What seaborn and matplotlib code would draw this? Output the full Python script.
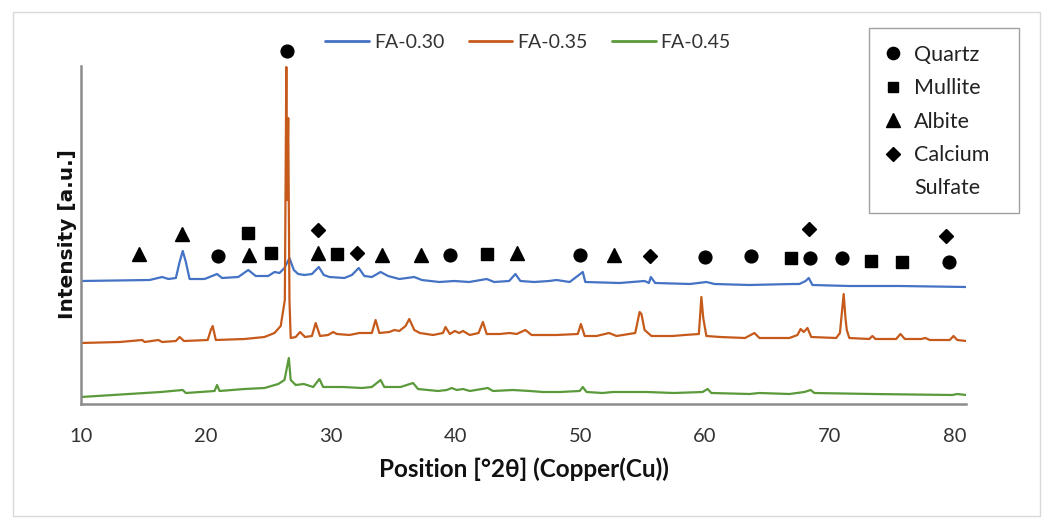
import matplotlib
matplotlib.use("Agg")
import matplotlib.pyplot as plt
from matplotlib.lines import Line2D
from matplotlib.patches import Rectangle
import pandas as pd
import seaborn as sns

# ---- diffraction patterns: 2-theta (deg) and stacked intensity (a.u.) ----
fa030_theta = [10.0, 15.5, 16.5, 17.0, 17.6, 17.9, 18.15, 18.4, 18.7, 19.9, 20.9, 21.3,
               22.6, 23.4, 24.0, 25.0, 25.5, 25.9, 26.3, 26.7, 27.05, 27.4, 27.9, 28.5,
               29.05, 29.45, 29.9, 31.1, 31.7, 32.25, 32.7, 33.3, 34.0, 34.6, 35.5, 36.7,
               37.3, 38.7, 39.9, 41.1, 42.5, 43.1, 44.3, 44.8, 45.2, 46.3, 47.5, 48.1,
               49.15, 50.2, 50.4, 53.15, 55.15, 55.5, 55.65, 56.0, 58.8, 60.1, 60.75,
               63.55, 67.0, 67.55, 68.05, 68.3, 68.6, 71.55, 75.6, 80.9]
fa030_int = [123, 124, 127, 125, 126, 142, 153, 142, 125, 125, 130, 126,
             127, 134, 128, 128, 132, 131, 136, 146, 134, 130, 129, 130,
             137, 129, 127, 126, 129, 136, 128, 127, 132, 128, 125, 127,
             124, 122, 123, 122, 125, 122, 123, 130, 123, 122, 123, 124,
             122, 132, 122, 121, 123, 121, 127, 121, 120, 122, 120,
             119, 120, 120, 123, 126, 119, 118, 118, 117]

fa035_theta = [10.0, 13.1, 14.9, 15.1, 16.2, 16.5, 17.6, 17.9, 18.25, 20.15, 20.4, 20.55,
               20.8, 23.1, 24.7, 25.5, 26.0, 26.33, 26.45, 26.5, 26.6, 26.7, 26.8, 27.2,
               27.55, 27.95, 28.5, 28.8, 29.15, 29.8, 30.2, 30.5, 31.5, 32.3, 33.3, 33.6,
               33.9, 34.7, 35.1, 35.5, 36.0, 36.3, 36.7, 37.15, 38.2, 39.0, 39.2, 39.55,
               39.95, 40.3, 40.6, 41.15, 41.85, 42.2, 42.5, 43.55, 44.35, 44.9, 45.6, 46.1,
               48.1, 49.8, 50.05, 50.35, 51.3, 52.3, 52.9, 54.4, 54.75, 54.9, 55.15, 55.7,
               57.4, 58.35, 59.5, 59.7, 59.85, 60.1, 61.2, 63.2, 63.95, 64.35, 66.75, 67.4,
               67.65, 67.9, 68.2, 68.5, 70.5, 70.8, 71.1, 71.25, 71.35, 71.55, 73.15, 73.4,
               73.65, 75.3, 75.65, 76.0, 77.3, 77.65, 78.0, 79.6, 79.9, 80.2, 80.9]
fa035_int = [61, 62, 64, 62, 64, 62, 63, 67, 63, 64, 74, 78,
             64, 65, 67, 71, 78, 104, 337, 204, 286, 104, 66, 67,
             72, 67, 68, 81, 68, 69, 72, 70, 69, 71, 71, 84,
             71, 72, 74, 73, 78, 85, 74, 71, 69, 71, 77, 70,
             73, 71, 73, 69, 71, 82, 70, 70, 71, 70, 74, 69,
             69, 70, 80, 68, 68, 71, 68, 71, 92, 90, 74, 68,
             68, 69, 70, 107, 86, 68, 67, 66, 71, 66, 66, 69,
             75, 72, 76, 67, 66, 71, 110, 85, 74, 66, 65, 68,
             65, 65, 70, 65, 65, 66, 64, 64, 68, 64, 63]

fa045_theta = [10.0, 16.4, 18.15, 18.4, 20.7, 20.9, 21.1, 23.1, 24.7, 25.8, 26.3, 26.65,
               26.8, 27.2, 27.85, 28.6, 29.1, 29.4, 31.0, 32.5, 33.3, 34.0, 34.3, 35.6,
               36.6, 37.0, 38.6, 39.3, 39.7, 40.1, 40.6, 41.15, 42.6, 43.0, 44.6, 45.95,
               47.0, 48.35, 49.95, 50.2, 50.5, 51.8, 52.6, 55.3, 57.5, 59.8, 60.2, 60.5,
               63.55, 64.35, 66.75, 67.95, 68.45, 68.75, 73.4, 79.8, 80.2, 80.9]
fa045_int = [7, 12, 14, 11, 13, 19, 13, 15, 16, 20, 24, 46,
             24, 19, 20, 17, 25, 17, 17, 16, 17, 24, 17, 17,
             21, 15, 13, 14, 16, 14, 15, 13, 16, 13, 14, 13,
             12, 12, 13, 17, 12, 11, 12, 12, 11, 12, 15, 11,
             10, 11, 10, 12, 14, 11, 10, 9, 10, 9]

series_names = ["FA-0.30", "FA-0.35", "FA-0.45"]
series_colors = ["#4472C4", "#C65A1B", "#5A9A3A"]

# ---- phase identification marks: 2-theta and height of each symbol ----
quartz_theta = [26.5, 21.0, 39.6, 50.0, 60.0, 63.7, 68.4, 71.0, 79.5]
quartz_y = [353, 148, 149, 149, 147, 148, 146, 146, 142]
mullite_theta = [23.4, 25.2, 30.5, 42.5, 66.85, 73.25, 75.8]
mullite_y = [171, 151, 150, 150, 146, 143, 142]
albite_theta = [18.1, 14.65, 23.45, 29.0, 34.1, 37.2, 44.9, 52.7]
albite_y = [170, 150, 149, 151, 149, 149, 151, 149]
sulfate_theta = [29.0, 32.1, 55.55, 68.3, 79.3]
sulfate_y = [174, 151, 148, 175, 168]

phase_names = ["Quartz", "Mullite", "Albite", "Calcium", "Sulfate"]

x_ticks = [10, 20, 30, 40, 50, 60, 70, 80]

# ---- long-form table for seaborn ----
frames = []
for name, th, it in zip(series_names,
                        [fa030_theta, fa035_theta, fa045_theta],
                        [fa030_int, fa035_int, fa045_int]):
    frames.append(pd.DataFrame({"theta": th, "intensity": it, "sample": name}))
patterns = pd.concat(frames, ignore_index=True)

sns.set_theme(style="white")
plt.rcParams["font.family"] = ["Lato", "DejaVu Sans"]

W, H = 1046, 519
fig = plt.figure(figsize=(W / 100, H / 100), dpi=100)
ax = fig.add_axes([81 / W, 1 - 404 / H, (966 - 81) / W, (404 - 66) / H])

sns.lineplot(data=patterns, x="theta", y="intensity", hue="sample",
             palette=dict(zip(series_names, series_colors)), sort=False,
             linewidth=1.6, legend=False, ax=ax)

mk = dict(color="black", linestyle="none", clip_on=False, zorder=5)
ax.plot(quartz_theta, quartz_y, marker="o", markersize=9.2, **mk)
ax.plot(mullite_theta, mullite_y, marker="s", markersize=8.2, **mk)
ax.plot(albite_theta, albite_y, marker="^", markersize=10, **mk)
ax.plot(sulfate_theta, sulfate_y, marker="D", markersize=7.2, **mk)

ax.set_xlim(10, 80.9)
ax.set_ylim(0, 338)
ax.set_xticks(x_ticks)
ax.set_xticklabels([str(t) for t in x_ticks])
ax.set_yticks([])
ax.tick_params(axis="x", length=0, pad=17, labelsize=14.5, labelcolor="#333333")
for side in ("top", "right"):
    ax.spines[side].set_visible(False)
for side in ("left", "bottom"):
    ax.spines[side].set_color("#8c8c8c")
    ax.spines[side].set_linewidth(1.8)

ax.set_xlabel("Position [°2θ] (Copper(Cu))", fontsize=17.5, fontweight="bold",
              color="#111111")
ax.xaxis.set_label_coords(0.5, -0.158)
ax.set_ylabel("Intensity [a.u.]", fontsize=14.5, fontweight="bold",
              family="DejaVu Sans", color="#111111")
ax.yaxis.set_label_coords(-0.004, 0.503)

# sample legend across the top
line_handles = [Line2D([], [], color=c, linewidth=2) for c in series_colors]
fig.legend(line_handles, series_names, loc="center", ncol=3, frameon=False,
           bbox_to_anchor=(528 / W, 1 - 42 / H), fontsize=14,
           handlelength=2.25, handletextpad=0.25, columnspacing=1.25,
           labelcolor="#333333")

# phase key in a boxed panel on the right
fig.patches.append(Rectangle((869 / W, 1 - 213 / H), 150 / W, 185 / H,
                             transform=fig.transFigure, facecolor="white",
                             edgecolor="#a0a0a0", linewidth=1.0))
phase_handles = [
    Line2D([], [], color="black", linestyle="none", marker="o", markersize=8.8),
    Line2D([], [], color="black", linestyle="none", marker="s", markersize=7.6),
    Line2D([], [], color="black", linestyle="none", marker="^", markersize=9.4),
    Line2D([], [], color="black", linestyle="none", marker="D", markersize=6.8),
    Line2D([], [], linestyle="none"),
]
fig.legend(phase_handles, phase_names, loc="upper left", frameon=False,
           bbox_to_anchor=(882 / W, 1 - 45 / H), fontsize=15.5,
           handlelength=1.0, handletextpad=0.5, labelspacing=0.62,
           borderpad=0, borderaxespad=0, labelcolor="#222222")

# light frame around the whole chart
fig.patches.append(Rectangle((13 / W, 3 / H), 1027 / W, 1 - 15 / H,
                             transform=fig.transFigure, fill=False,
                             edgecolor="#d9d9d9", linewidth=1.0))

fig.savefig("out.png", dpi=100)
